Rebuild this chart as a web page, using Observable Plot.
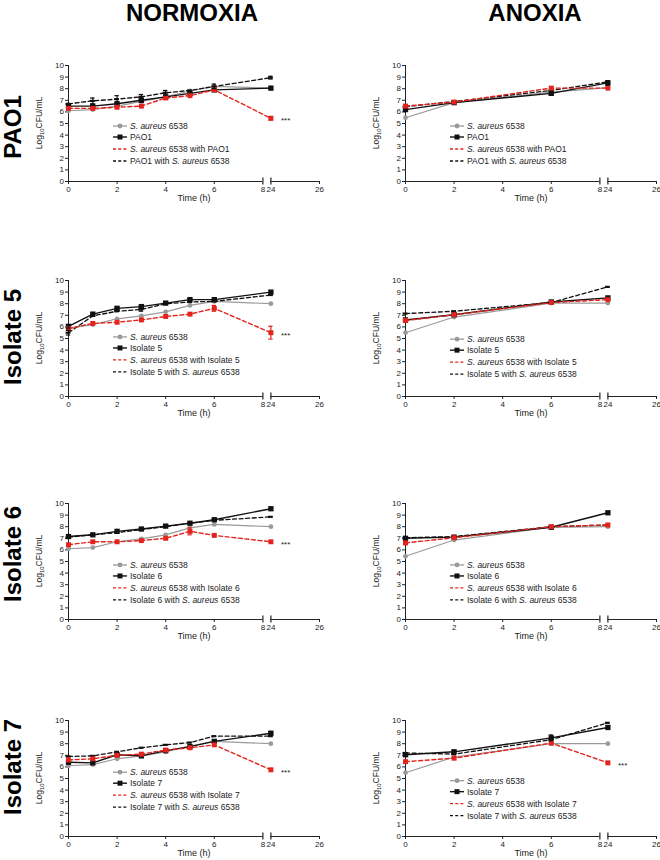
<!DOCTYPE html>
<html><head><meta charset="utf-8">
<script src="https://cdn.jsdelivr.net/npm/d3@7"></script>
<script src="https://cdn.jsdelivr.net/npm/@observablehq/plot@0.6"></script>
<style>
html,body{margin:0;padding:0;background:#fff;}
#page{position:relative;width:660px;height:860px;overflow:hidden;font-family:"Liberation Sans",Arial,sans-serif;}
#page > svg{position:absolute;}
</style></head><body><div id="page"></div>
<script>
// ---------- labels ----------
const columns = ["NORMOXIA", "ANOXIA"];
const strains = ["PAO1", "Isolate 5", "Isolate 6", "Isolate 7"];
const timesNormoxia = [0, 1, 2, 3, 4, 5, 6, 24];
const timesAnoxia = [0, 2, 6, 24];
const xTicksEarly = [0, 2, 4, 6, 8];
const xTicksLate = [24, 26];
const yTicks = [0, 1, 2, 3, 4, 5, 6, 7, 8, 9, 10];

// ---------- NORMOXIA values (log10 CFU/mL) ----------
const nPAO1_sa   = [6.1, 6.2, 6.5, 6.9, 7.3, 7.8, 8.2, 8.05];
const nPAO1_pa   = [6.5, 6.5, 6.7, 7.0, 7.3, 7.6, 7.9, 8.05];
const nPAO1_saCo = [6.3, 6.3, 6.4, 6.5, 7.2, 7.4, 7.9, 5.45];
const nPAO1_paCo = [6.7, 6.95, 7.1, 7.3, 7.65, 7.85, 8.2, 8.95];
const nPAO1_err  = [["paCo",1,0.25],["paCo",2,0.3],["paCo",3,0.2],["paCo",4,0.2],["paCo",6,0.2],["paCo",24,0.12],["saCo",24,0.15],["pa",3,0.15]];

const nI5_sa   = [5.9, 6.2, 6.7, 6.95, 7.3, 7.85, 8.2, 8.0];
const nI5_pa   = [6.05, 7.1, 7.6, 7.75, 8.05, 8.35, 8.35, 9.0];
const nI5_saCo = [5.85, 6.3, 6.4, 6.6, 6.9, 7.1, 7.6, 5.5];
const nI5_paCo = [5.5, 6.95, 7.35, 7.5, 8.0, 8.15, 8.2, 8.75];
const nI5_err  = [["saCo",6,0.25],["saCo",24,0.55],["pa",0,0.15],["pa",2,0.12],["pa",3,0.12],["pa",5,0.1],["paCo",0,0.2],["paCo",3,0.15]];

const nI6_sa   = [6.1, 6.2, 6.7, 6.95, 7.3, 7.9, 8.2, 8.0];
const nI6_pa   = [7.15, 7.3, 7.6, 7.8, 8.05, 8.3, 8.6, 9.55];
const nI6_saCo = [6.45, 6.7, 6.7, 6.8, 7.0, 7.6, 7.25, 6.7];
const nI6_paCo = [7.1, 7.3, 7.5, 7.75, 8.0, 8.3, 8.55, 8.85];
const nI6_err  = [["saCo",5,0.3]];

const nI7_sa   = [6.1, 6.2, 6.7, 6.95, 7.3, 7.8, 8.2, 8.0];
const nI7_pa   = [6.4, 6.35, 7.05, 6.95, 7.4, 7.75, 8.2, 8.9];
const nI7_saCo = [6.6, 6.7, 7.0, 7.1, 7.45, 7.65, 7.9, 5.75];
const nI7_paCo = [6.9, 6.95, 7.3, 7.65, 7.9, 8.1, 8.65, 8.65];
const nI7_err  = [["pa",24,0.15]];

// ---------- ANOXIA values ----------
const aPAO1_sa   = [5.5, 6.8, 7.7, 8.1];
const aPAO1_pa   = [6.2, 6.8, 7.6, 8.5];
const aPAO1_saCo = [6.5, 6.85, 8.05, 8.05];
const aPAO1_paCo = [6.45, 6.9, 7.85, 8.6];
const aPAO1_err  = [["pa",24,0.2],["pa",6,0.15]];

const aI5_sa   = [5.5, 6.85, 8.05, 8.05];
const aI5_pa   = [6.6, 7.05, 8.15, 8.5];
const aI5_saCo = [6.55, 7.05, 8.1, 8.35];
const aI5_paCo = [7.15, 7.35, 8.1, 9.45];
const aI5_err  = [];

const aI6_sa   = [5.45, 6.85, 7.95, 8.0];
const aI6_pa   = [7.0, 7.1, 7.95, 9.2];
const aI6_saCo = [6.6, 7.05, 8.0, 8.15];
const aI6_paCo = [7.05, 7.15, 8.0, 8.15];
const aI6_err  = [];

const aI7_sa   = [5.5, 6.85, 8.0, 8.0];
const aI7_pa   = [7.05, 7.3, 8.5, 9.4];
const aI7_saCo = [6.45, 6.75, 8.05, 6.35];
const aI7_paCo = [7.2, 7.1, 8.35, 9.8];
const aI7_err  = [["pa",6,0.25],["pa",2,0.12],["pa",0,0.12]];

// significance (*** at 24 h on the co-culture S. aureus point)
const starsNormoxia = [true, true, true, true];
const starsAnoxia = [false, false, false, true];

// ---------- panel assembly ----------
const normoxiaSets = [
  [nPAO1_sa, nPAO1_pa, nPAO1_saCo, nPAO1_paCo, nPAO1_err],
  [nI5_sa, nI5_pa, nI5_saCo, nI5_paCo, nI5_err],
  [nI6_sa, nI6_pa, nI6_saCo, nI6_paCo, nI6_err],
  [nI7_sa, nI7_pa, nI7_saCo, nI7_paCo, nI7_err]
];
const anoxiaSets = [
  [aPAO1_sa, aPAO1_pa, aPAO1_saCo, aPAO1_paCo, aPAO1_err],
  [aI5_sa, aI5_pa, aI5_saCo, aI5_paCo, aI5_err],
  [aI6_sa, aI6_pa, aI6_saCo, aI6_paCo, aI6_err],
  [aI7_sa, aI7_pa, aI7_saCo, aI7_paCo, aI7_err]
];

const GRAY = "#9a9a9a", RED = "#e3241d", BLACK = "#111";
const FONT = '"Liberation Sans", Arial, sans-serif';
const GAP = 0.33; // broken axis gap (in axis units)
const tx = t => t <= 8 ? t : t - 24 + 8 + GAP;
const keys = ["sa", "pa", "saCo", "paCo"];

const rowTop = [65, 280, 503, 720];          // pixel y of value 10 in each row
const legendTop = [[4.74, 4.74], [5.09, 4.9], [4.66, 4.66], [5.5, 4.77]];
const page = document.getElementById("page");

// overlay: column titles & row titles
const ov = d3.select(page).append("svg").attr("width", 660).attr("height", 860)
  .style("left", "0px").style("top", "0px").style("font-family", FONT);
[[192, columns[0]], [535, columns[1]]].forEach(([x, t]) =>
  ov.append("text").attr("x", x).attr("y", 21).attr("text-anchor", "middle")
    .attr("font-size", 24).attr("font-weight", "bold").attr("fill", "#000").text(t));
[127, 337, 554, 767].forEach((cy, i) =>
  ov.append("text").attr("transform", `translate(21,${cy}) rotate(-90)`)
    .attr("text-anchor", "middle").attr("font-size", 24).attr("font-weight", "bold")
    .attr("fill", "#000").text(strains[i]));

function makePanel(row, col) {
  const times = col === 0 ? timesNormoxia : timesAnoxia;
  const set = col === 0 ? normoxiaSets[row] : anoxiaSets[row];
  const stars = col === 0 ? starsNormoxia[row] : starsAnoxia[row];
  const strain = strains[row];
  const series = {};
  keys.forEach((k, j) => series[k] = times.map((t, i) => ({t, x: tx(t), v: set[j][i]})));
  const errs = set[4].map(([k, t, e]) => {
    const p = series[k].find(d => d.t === t);
    return {x: p.x, lo: p.v - e, hi: p.v + e, c: k === "saCo" ? RED : (k === "sa" ? GRAY : BLACK)};
  });

  const marginLeft = col === 0 ? 68 : 75;
  const W = 330, plotW = 251;
  const marginTop = 10, marginBottom = 34, H = 160;
  const dash = "4,2.6";

  const marks = [
    // axis lines (broken x-axis)
    Plot.ruleY([0], {x1: 0, x2: 8, stroke: "#222", strokeWidth: 1}),
    Plot.ruleY([0], {x1: tx(24), x2: tx(26), stroke: "#222", strokeWidth: 1}),
    Plot.ruleX([8, tx(24)], {y1: -0.3, y2: 0.3, stroke: "#222", strokeWidth: 1.2}),
    Plot.ruleX([0], {y1: 0, y2: 10, stroke: "#222", strokeWidth: 1}),
    Plot.axisY({ticks: yTicks, tickSize: 3, tickPadding: 1.5, label: null, fontSize: 8}),
    Plot.axisX({ticks: [...xTicksEarly.filter(d => d < 8), ...xTicksLate.filter(d => d > 24)].map(tx),
      tickFormat: d => String(d <= 8 ? d : Math.round(d - GAP - 8 + 24)),
      tickSize: 3, tickPadding: 2, label: null, fontSize: 8}),
    Plot.axisX({ticks: [8, tx(24)],
      tickFormat: d => String(d <= 8 ? d : Math.round(d - GAP - 8 + 24)),
      tickSize: 0, tickPadding: 5, label: null, fontSize: 8}),
    Plot.text(["Time (h)"], {frameAnchor: "bottom", dy: 19, fontSize: 9, fill: "#222"}),
    // S. aureus alone
    Plot.line(series.sa, {x: "x", y: "v", stroke: GRAY, strokeWidth: 1.2}),
    Plot.dot(series.sa, {x: "x", y: "v", r: 2.4, fill: GRAY}),
    // Pa alone
    Plot.line(series.pa, {x: "x", y: "v", stroke: BLACK, strokeWidth: 1.4}),
    Plot.dot(series.pa, {x: "x", y: "v", symbol: "square", r: 3, fill: BLACK}),
    // Pa with S. aureus
    Plot.line(series.paCo, {x: "x", y: "v", stroke: BLACK, strokeWidth: 1.3, strokeDasharray: dash}),
    Plot.ruleY(series.paCo, {y: "v", x1: d => d.x - 0.1, x2: d => d.x + 0.1, stroke: BLACK, strokeWidth: 2.2}),
    // S. aureus with Pa
    Plot.line(series.saCo, {x: "x", y: "v", stroke: RED, strokeWidth: 1.4, strokeDasharray: dash}),
    Plot.dot(series.saCo, {x: "x", y: "v", symbol: "square", r: 2.8, fill: RED}),
    // error bars
    Plot.ruleX(errs, {x: "x", y1: "lo", y2: "hi", stroke: "c", strokeWidth: 1.2}),
    Plot.ruleY(errs, {y: "lo", x1: d => d.x - 0.09, x2: d => d.x + 0.09, stroke: "c", strokeWidth: 1.2}),
    Plot.ruleY(errs, {y: "hi", x1: d => d.x - 0.09, x2: d => d.x + 0.09, stroke: "c", strokeWidth: 1.2})
  ];
  if (stars) {
    const p = series.saCo[series.saCo.length - 1];
    marks.push(Plot.text([p], {x: "x", y: "v", text: () => "***", textAnchor: "start", dx: 10, dy: 2.5, fontSize: 8, fill: "#222"}));
  }

  const svg = Plot.plot({
    width: W, height: H,
    marginLeft, marginRight: W - marginLeft - plotW, marginTop, marginBottom,
    x: {type: "linear", domain: [0, tx(26)]},
    y: {type: "linear", domain: [0, 10]},
    style: {fontFamily: FONT, fontSize: "8px", color: "#222", background: "transparent", overflow: "visible"},
    marks
  });
  svg.style.left = (col === 0 ? 0 : 330) + "px";
  svg.style.top = (rowTop[row] - marginTop) + "px";
  page.appendChild(svg);

  const xs = svg.scale("x"), ys = svg.scale("y");
  const s = d3.select(svg);
  // y-axis title with subscript
  const yl = s.append("text")
    .attr("transform", `translate(${marginLeft - 26},${(ys.apply(0) + ys.apply(10)) / 2}) rotate(-90)`)
    .attr("text-anchor", "middle").attr("font-size", 8.5).attr("fill", "#222").attr("font-family", FONT);
  yl.append("tspan").text("Log");
  yl.append("tspan").attr("font-size", 6).attr("dy", 2).text("10");
  yl.append("tspan").attr("dy", -2).text("CFU/mL");

  // legend
  const lx = xs.apply(0) + 45;
  const ly = ys.apply(legendTop[row][col]);
  const offs = [0, 11, 23, 35];
  const labels = [
    [["S. aureus", true], [" 6538", false]],
    [[strain, false]],
    [["S. aureus", true], [" 6538 with " + strain, false]],
    [[strain + " with ", false], ["S. aureus", true], [" 6538", false]]
  ];
  const lg = s.append("g").attr("font-family", FONT).attr("text-anchor", "start");
  labels.forEach((parts, i) => {
    const y = ly + offs[i];
    const k = keys[i];
    const color = k === "sa" ? GRAY : k === "saCo" ? RED : BLACK;
    lg.append("line").attr("x1", lx).attr("x2", lx + 14).attr("y1", y).attr("y2", y)
      .attr("stroke", color).attr("stroke-width", k === "pa" ? 1.4 : 1.3)
      .attr("stroke-dasharray", (k === "saCo" || k === "paCo") ? "3,2.2" : null);
    if (k === "sa") lg.append("circle").attr("cx", lx + 7).attr("cy", y).attr("r", 2.4).attr("fill", GRAY);
    if (k === "pa") lg.append("rect").attr("x", lx + 4.5).attr("y", y - 2.5).attr("width", 5).attr("height", 5).attr("fill", BLACK);
    const t = lg.append("text").attr("x", lx + 17).attr("y", y).attr("dy", "0.35em")
      .attr("text-anchor", "start").attr("font-size", 8.5).attr("fill", "#222");
    parts.forEach(([str, it]) => t.append("tspan").attr("font-style", it ? "italic" : null).text(str));
  });
}

for (let r = 0; r < 4; r++) for (let c = 0; c < 2; c++) makePanel(r, c);
</script>
</body></html>
